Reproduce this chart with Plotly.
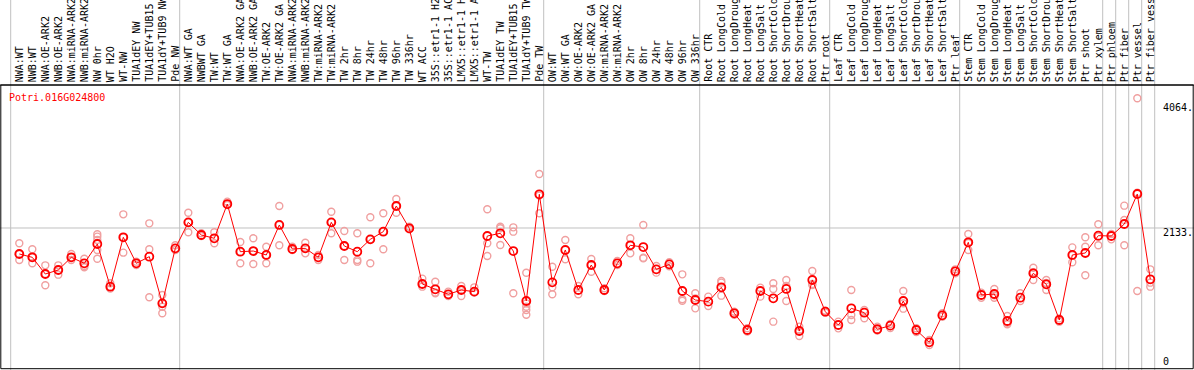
import plotly.graph_objects as go

gene = "Potri.016G024800"

labels = [
    "NWA:WT", "NWB:WT", "NWA:OE-ARK2", "NWB:OE-ARK2", "NWA:miRNA-ARK2", "NWB:miRNA-ARK2",
    "NW 0hr", "WT H2O", "WT-NW", "TUA1dEY NW", "TUA1dEY+TUB15 NW", "TUA1dY+TUB9 NW", "Pde NW",
    "NWA:WT GA", "NWBWT GA", "TW:WT", "TW:WT GA", "NWA:OE-ARK2 GA", "NWB:OE-ARK2 GA",
    "TW:OE-ARK2", "TW:OE-ARK2 GA", "NWA:miRNA-ARK2 GA", "NWB:miRNA-ARK2 GA", "TW:miRNA-ARK2",
    "TW:miRNA-ARK2 GA", "TW 2hr", "TW 8hr", "TW 24hr", "TW 48hr", "TW 96hr", "TW 336hr",
    "WT ACC", "35S::etr1-1 H2O", "35S::etr1-1 ACC", "LMX5::etr1-1 H2O", "LMX5::etr1-1 ACC",
    "WT-TW", "TUA1dEY TW", "TUA1dEY+TUB15 TW", "TUA1dY+TUB9 TW", "Pde TW",
    "OW:WT", "OW:WT GA", "OW:OE-ARK2", "OW:OE-ARK2 GA", "OW:miRNA-ARK2", "OW:miRNA-ARK2 GA",
    "OW 2hr", "OW 8hr", "OW 24hr", "OW 48hr", "OW 96hr", "OW 336hr",
    "Root CTR", "Root LongCold", "Root LongDrought", "Root LongHeat", "Root LongSalt",
    "Root ShortCold", "Root ShortDrought", "Root ShortHeat", "Root ShortSalt", "Ptr root",
    "Leaf CTR", "Leaf LongCold", "Leaf LongDrought", "Leaf LongHeat", "Leaf LongSalt",
    "Leaf ShortCold", "Leaf ShortDrought", "Leaf ShortHeat", "Leaf ShortSalt", "Ptr leaf",
    "Stem CTR", "Stem LongCold", "Stem LongDrought", "Stem LongHeat", "Stem LongSalt",
    "Stem ShortCold", "Stem ShortDrought", "Stem ShortHeat", "Stem ShortSalt", "Ptr shoot",
    "Ptr xylem", "Ptr phloem", "Ptr fiber", "Ptr vessel", "Ptr fiber vessel",
]

means = [
    1737, 1686, 1432, 1493, 1686, 1595, 1889, 1239, 1991, 1595, 1696, 985, 1823,
    2219, 2026, 1976, 2498, 1772, 1782, 1722, 2179, 1813, 1823, 1686, 2219, 1859, 1772,
    1960, 2077, 2468, 2128, 1280, 1199, 1123, 1188, 1163, 2011, 2052, 1782, 1021, 2646,
    1305, 1798, 1188, 1569, 1188, 1595, 1869, 1843, 1503, 1579, 1173, 1036,
    1011, 1229, 833, 579, 1173, 1062, 1204, 564, 1341, 858,
    655, 909, 843, 590, 645, 1021, 579, 391, 802, 1473,
    1915, 1112, 1127, 716, 1071, 1443, 1275, 731, 1722, 1752, 2016,
    2011, 2194, 2651, 1351,
]

replicates = [
    [1900, 1737, 1645], [1808, 1686, 1595], [1564, 1432, 1260], [1564, 1493, 1422],
    [1737, 1686, 1645], [1665, 1554, 1534], [2037, 2001, 1950, 1798, 1665], [1290, 1239, 1209],
    [2341, 1991, 1757], [1620, 1569], [2204, 1808, 1077], [1112, 985, 934, 833], [1869, 1798],
    [2366, 2219, 2067], [2052, 2011], [2067, 1900], [2534, 2483], [1920, 1595, 1772],
    [1976, 1584, 1782], [1848, 1595, 1722], [2468, 1869, 2179], [1848, 1798], [1909, 1747, 1823],
    [1722, 1645], [2381, 2052, 2219], [2087, 1645, 1859], [2052, 1620, 1645], [2296, 1595, 1960],
    [2357, 1808, 2077], [2575, 2366, 2468], [2153, 2113], [1361, 1239, 1280], [1315, 1138, 1150],
    [1163, 1097], [1249, 1097, 1188], [1229, 1148, 1163], [2418, 1900, 1706], [2153, 1874, 2128],
    [2143, 2077, 1138], [1452, 985, 934, 884, 812], [2955, 2357, 2626],
    [1543, 1229, 1123], [1950, 1656], [1249, 1123], [1661, 1467, 1569], [1214, 1173],
    [1630, 1569], [1976, 1747, 1869], [2179, 1681, 1670], [1554, 1453], [1610, 1550],
    [1427, 1047, 1025], [1138, 909, 1060],
    [1087, 945], [1325, 1300, 1102], [858, 810], [605, 554], [1224, 1087],
    [1290, 1204, 706], [1341, 1021, 1250], [630, 488, 574], [1478, 1280, 1265], [873, 843],
    [706, 604], [1188, 731, 808], [884, 757], [630, 570], [670, 610],
    [1173, 904, 985], [605, 549], [426, 351], [833, 782], [1443, 1503],
    [2041, 1798, 1905], [1148, 1071], [1204, 1071, 1107], [792, 690, 666], [1138, 1021],
    [1528, 1341, 1460], [1341, 1188, 1296], [756, 706], [1838, 1610, 1718], [1991, 1848, 1412],
    [2189, 2001, 1869], [2041, 1960], [2473, 2255, 1869], [4110, 1173, 2670], [1503, 1300, 1239],
]

group_starts = [0, 13, 41, 53, 63, 73, 84, 85, 86, 87, 88]
axis_labels = ["4064.", "2133.", "0"]
grid_value = 2133

W, H = 1194, 370
px0, pstep = 19.3, 13.0          # pixel of first column, column width
header_px = 85                   # header bottom line (pixel from top)
bottom_px = 368.7
val_px = 0.06564                 # pixels per expression unit, 0 at y=368


def yfrac(py):
    return (H - py) / H


xs = list(range(len(labels)))
rx, ry = [], []
for i, reps in enumerate(replicates):
    for v in reps:
        rx.append(i)
        ry.append(v)

fig = go.Figure()
fig.add_trace(go.Scatter(
    x=rx, y=ry, mode="markers",
    marker=dict(symbol="circle-open", size=7, color="#f0a0a0", line=dict(width=1.4)),
    hoverinfo="skip",
))
fig.add_trace(go.Scatter(
    x=xs, y=means, mode="lines+markers",
    line=dict(color="#ff0000", width=1),
    marker=dict(symbol="circle-open", size=8, color="#ff0000", line=dict(width=1.8)),
))

shapes = []
for k in group_starts:
    shapes.append(dict(type="line", xref="x", yref="paper", x0=k - 0.6615, x1=k - 0.6615,
                       y0=0, y1=1, line=dict(color="#c0c0c0", width=1), layer="below"))
shapes.append(dict(type="line", xref="paper", yref="y", x0=0, x1=1, y0=grid_value, y1=grid_value,
                   line=dict(color="#c0c0c0", width=1), layer="below"))
shapes.append(dict(type="line", xref="paper", yref="paper", x0=0, x1=1,
                   y0=yfrac(header_px), y1=yfrac(header_px), line=dict(color="black", width=1)))
shapes.append(dict(type="rect", xref="paper", yref="paper", x0=0.8 / W, x1=1193.2 / W,
                   y0=yfrac(bottom_px), y1=yfrac(header_px), line=dict(color="black", width=1)))

font = dict(family="DejaVu Sans Mono", size=10, color="black")
ann = []
for i, lab in enumerate(labels):
    ann.append(dict(x=i, xref="x", y=yfrac(83), yref="paper", text=lab, textangle=-90,
                    showarrow=False, xanchor="center", yanchor="bottom", font=font,
                    borderpad=0))
ann.append(dict(x=8 / W, xref="paper", y=yfrac(97), yref="paper", text=gene, showarrow=False,
                xanchor="left", yanchor="middle", font=dict(family="DejaVu Sans Mono", size=10,
                                                            color="#ff0000"), borderpad=0))
for txt, py in zip(axis_labels, [107, 232.7, 361.7]):
    ann.append(dict(x=1162 / W, xref="paper", y=yfrac(py), yref="paper", text=txt,
                    showarrow=False, xanchor="left", yanchor="middle", font=font, borderpad=0))

fig.update_layout(
    width=W, height=H, margin=dict(l=0, r=0, t=0, b=0),
    paper_bgcolor="white", plot_bgcolor="white", showlegend=False,
    xaxis=dict(range=[-px0 / pstep, (W - px0) / pstep], domain=[0, 1], visible=False),
    yaxis=dict(range=[(368 - bottom_px) / val_px, (368 - header_px) / val_px],
               domain=[yfrac(bottom_px), yfrac(header_px)], visible=False),
    shapes=shapes, annotations=ann,
)
fig.write_html("out.html", config={"displayModeBar": False},
               post_script="document.body.style.margin='0';document.body.style.overflow='hidden';")
